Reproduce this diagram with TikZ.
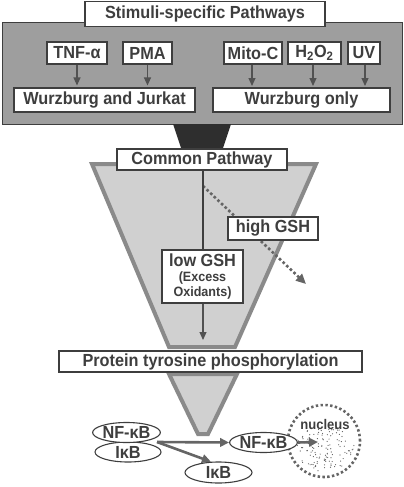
\documentclass[tikz,border=0pt]{standalone}
\usepackage{fontspec}
\setmainfont{Liberation Sans}[FakeStretch=0.93]
\usetikzlibrary{arrows.meta,calc,shapes.geometric}
\definecolor{ink}{HTML}{3E3E3E}
\definecolor{panel}{HTML}{9E9E9E}
\definecolor{funnelfill}{HTML}{D0D0D0}
\definecolor{funnelborder}{HTML}{8A8A8A}
\definecolor{darkfunnel}{HTML}{2E2E2E}
\newcommand{\bigf}{\fontsize{17.5}{19}\selectfont\bfseries}
\newcommand{\smallf}{\fontsize{13.5}{14.5}\selectfont\bfseries}
\tikzset{
  labelbox/.style={draw=ink, fill=white, line width=1.1pt, inner sep=0pt, text=ink, font=\bigf, align=center},
  oval/.style={ellipse, draw=ink, fill=white, line width=1.1pt, inner sep=0pt, text=ink, font=\bigf},
  arr/.style={draw=ink!90, line width=1.2pt, -{Triangle[length=8pt,width=7pt]}},
  thickarr/.style={draw=ink!80, line width=2.6pt, -{Triangle[length=9pt,width=8.5pt]}},
  dotarr/.style={draw=ink!80, line width=2.6pt, dash pattern=on 2.6pt off 2.4pt, -{Triangle[length=10pt,width=9pt]}},
}
\begin{document}
\begin{tikzpicture}[x=1pt,y=-1pt]
\useasboundingbox (0,0) rectangle (404,487);
% top panel
\filldraw[fill=panel, draw=ink, line width=1pt] (2,23) rectangle (402,124);
\node[labelbox, minimum width=240pt, minimum height=25pt] (title) at (205,14) {Stimuli-specific Pathways};
\node[labelbox, minimum width=60pt, minimum height=22pt] (tnf) at (77,53) {TNF-α};
\node[labelbox, minimum width=49pt, minimum height=22pt] (pma) at (147.5,53) {PMA};
\node[labelbox, minimum width=58pt, minimum height=22pt] (mito) at (253,53) {Mito-C};
\node[labelbox, minimum width=53pt, minimum height=22pt] (hoo) at (314.5,53) {H\textsubscript{2}O\textsubscript{2}};
\node[labelbox, minimum width=32pt, minimum height=22pt] (uv) at (364,53) {UV};
\node[labelbox, minimum width=181pt, minimum height=24pt] (wj) at (104.5,100) {Wurzburg and Jurkat};
\node[labelbox, minimum width=177pt, minimum height=24pt] (wo) at (301.5,100) {Wurzburg only};
\draw[arr, shorten >=2pt] (tnf.south) -- (tnf.south |- wj.north);
\draw[arr, shorten >=2pt] (pma.south) -- (pma.south |- wj.north);
\draw[arr, shorten >=2pt] (mito.south -| 252,0) -- (252,88);
\draw[arr, shorten >=2pt] (hoo.south -| 313,0) -- (313,88);
\draw[arr, shorten >=2pt] (uv.south -| 365,0) -- (365,88);
% dark funnel
\fill[darkfunnel] (173,124) -- (231,124) -- (222,151) -- (182,151) -- cycle;
% big funnel
\filldraw[fill=funnelfill, draw=funnelborder, line width=4pt, line join=miter] (92,164) -- (316,164) -- (235,347) -- (169,347) -- cycle;
\node[labelbox, minimum width=170pt, minimum height=21pt] (common) at (202,159.5) {Common Pathway};
% low / high GSH
\node[labelbox, minimum width=81pt, minimum height=53pt] (low) at (202.5,276.5) {low GSH\\[-4pt]{\smallf(Excess}\\[-4pt]{\smallf Oxidants)}};
\coordinate (split) at (203,186);
\coordinate (gshend) at (306,284);
\draw[dotarr] (split) -- (gshend);
\node[labelbox, minimum width=90pt, minimum height=23pt] (high) at (273,228.5) {high GSH};
\draw[draw=ink, line width=1.2pt] (common.south -| 203,0) -- (low.north -| 203,0);
\coordinate (lowend) at (203,340);
\draw[arr] (low.south -| 203,0) -- (lowend);
% lower funnel
\filldraw[fill=funnelfill, draw=funnelborder, line width=4pt, line join=miter] (169,374) -- (237,374) -- (208,434) -- (198,434) -- cycle;
\node[labelbox, minimum width=303pt, minimum height=21pt] (ptp) at (210.5,361.5) {Protein tyrosine phosphorylation};
% nucleus
\coordinate (nuc) at (324,441);
\pgfmathsetseed{11}
\foreach \i in {1,...,130}{
  \pgfmathsetmacro{\t}{rnd*360}
  \pgfmathsetmacro{\r}{31*sqrt(rnd)}
  \pgfmathsetmacro{\px}{324+\r*cos(\t)}
  \pgfmathsetmacro{\py}{449+0.72*\r*sin(\t)}
  \fill[ink!85] (\px,\py) circle (0.6pt);
}
\draw[draw=ink!80, line width=2.6pt, dash pattern=on 2.4pt off 2.4pt] (nuc) circle (36pt);
\node[text=ink, font=\fontsize{14}{15}\selectfont\bfseries] (nuctext) at (325,424) {nucleus};
% ellipses
\node[oval, minimum width=66pt, minimum height=20pt] (ikb1) at (128,452) {IκB};
\node[oval, minimum width=63pt, minimum height=20pt] (nf1) at (126.5,432.5) {NF-κB};
\node[oval, minimum width=67pt, minimum height=21pt] (ikb2) at (218.5,472.5) {IκB};
\node[oval, minimum width=63pt, minimum height=20pt] (nf2) at (263.5,442.5) {NF-κB};
\coordinate (cx) at (157,442);
\coordinate (nucin) at (318,442);
\draw[thickarr] (cx) -- (nf2.west);
\draw[thickarr] (cx) -- (ikb2.125);
\draw[thickarr] (nf2.east) -- (nucin);
\end{tikzpicture}
\end{document}
